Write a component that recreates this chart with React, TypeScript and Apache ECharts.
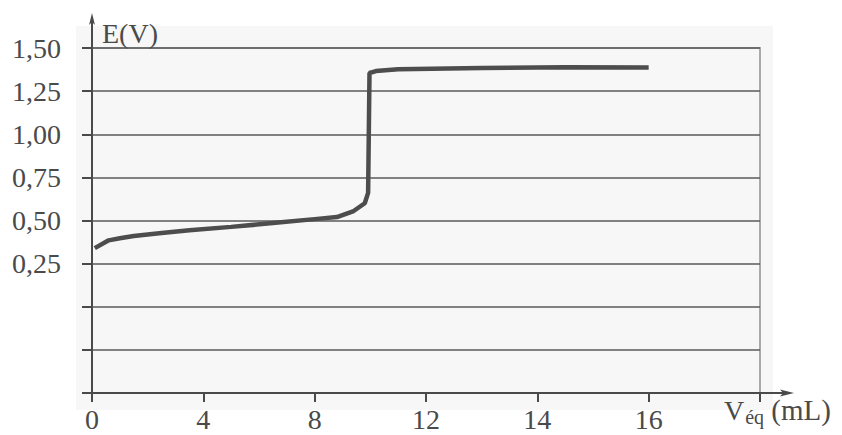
import React, { useEffect, useRef } from "react";
import * as echarts from "echarts";

// Titration curve (x in the axis' linear coordinate)
const volumeML = [0.1, 0.6, 1.0, 1.5, 2.5, 3.5, 5.0, 6.5, 8.0, 8.8, 9.4, 9.8, 9.92, 9.97, 10.2, 11.0, 14.0, 17.0, 20.0];
const potentialV = [0.34, 0.385, 0.397, 0.41, 0.428, 0.443, 0.463, 0.485, 0.508, 0.52, 0.555, 0.6, 0.66, 1.355, 1.366, 1.377, 1.384, 1.388, 1.387];

// x tick positions and the labels printed under them
const xTickValues = [0, 4, 8, 12, 16, 20];
const xTickLabels = ["0", "4", "8", "12", "14", "16"];
const yLabelMin = 0.25;

const FONT = "Liberation Serif";
const INK = "#4a4a4a";

export default function App() {
  const ref = useRef<HTMLDivElement>(null);
  useEffect(() => {
    if (!ref.current) return;
    const chart = echarts.init(ref.current, undefined, { renderer: "svg" });
    chart.setOption({
      animation: false,
      grid: {
        left: 92,
        right: 82,
        top: 48,
        bottom: 42,
        outerBoundsMode: "none",
        containLabel: false,
        show: true,
        backgroundColor: "#f7f7f7",
        borderColor: "#aaaaaa",
        borderWidth: 2,
      },
      graphic: [
        { type: "rect", z: -10, shape: { x: 76, y: 26, width: 697, height: 384 }, style: { fill: "#f7f7f7" } },
        { type: "line", shape: { x1: 92, y1: 48, x2: 92, y2: 20 }, style: { stroke: INK, lineWidth: 2 } },
        { type: "polygon", shape: { points: [[92, 13], [89, 25], [92, 22], [95, 25]] }, style: { fill: INK } },
        { type: "line", shape: { x1: 760, y1: 393, x2: 786, y2: 393 }, style: { stroke: INK, lineWidth: 2 } },
        { type: "polygon", shape: { points: [[794, 393], [780, 389.5], [783, 393], [780, 396.5]] }, style: { fill: INK } },
      ],
      xAxis: {
        type: "value",
        min: 0,
        max: 24,
        interval: 4,
        name: "{v|V}{s|éq}{w| (mL)}",
        nameLocation: "end",
        nameGap: -36,
        nameTextStyle: {
          align: "left",
          verticalAlign: "top",
          padding: [13, 0, 0, 0],
          rich: {
            v: { fontFamily: FONT, fontSize: 28, color: INK, lineHeight: 24, verticalAlign: "bottom", padding: [0, 0, 6, 0] },
            s: { fontFamily: FONT, fontSize: 20, color: INK, lineHeight: 16, verticalAlign: "bottom", padding: [0, 0, 3, 1] },
            w: { fontFamily: FONT, fontSize: 29, color: INK, lineHeight: 24, verticalAlign: "bottom", padding: [0, 0, 6, 0] },
          },
        },
        axisLine: { show: true, onZero: false, lineStyle: { color: INK, width: 2 } },
        axisTick: { show: true, inside: false, length: 9, lineStyle: { color: INK, width: 2 } },
        axisLabel: {
          margin: 16,
          fontFamily: FONT,
          fontSize: 28,
          lineHeight: 20,
          color: INK,
          formatter: (v: number) => {
            const i = xTickValues.indexOf(v);
            return i >= 0 ? xTickLabels[i] : "";
          },
        },
        splitLine: { show: false },
      },
      yAxis: {
        type: "value",
        min: -0.5,
        max: 1.5,
        interval: 0.25,
        name: "E(V)",
        nameLocation: "end",
        nameGap: 1,
        nameTextStyle: {
          fontFamily: FONT,
          fontSize: 28,
          color: INK,
          align: "left",
          verticalAlign: "bottom",
          padding: [0, 0, 0, 10],
        },
        axisLine: { show: true, onZero: false, lineStyle: { color: INK, width: 2 } },
        axisTick: { show: true, inside: false, length: 10, lineStyle: { color: INK, width: 2 } },
        axisLabel: {
          margin: 31,
          fontFamily: FONT,
          fontSize: 28,
          color: INK,
          formatter: (v: number) => (v >= yLabelMin - 1e-9 ? v.toFixed(2).replace(".", ",") : ""),
        },
        splitLine: { show: true, lineStyle: { color: "#5a5a5a", width: 1.5 } },
      },
      series: [
        {
          type: "line",
          data: volumeML.map((x, i) => [x, potentialV[i]]),
          symbol: "none",
          smooth: false,
          lineStyle: { color: "#4d4d4d", width: 4.5 },
        },
      ],
    });
    return () => chart.dispose();
  }, []);
  return <div ref={ref} style={{ position: "absolute", left: 0, top: 0, width: 842, height: 435 }} />;
}
